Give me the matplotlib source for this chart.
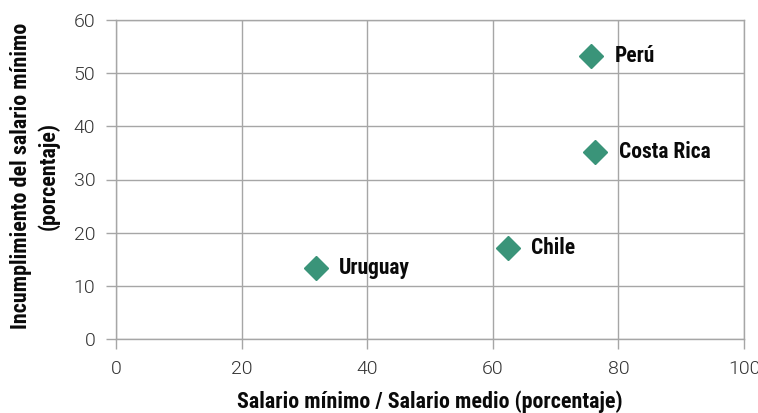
import matplotlib
matplotlib.use("Agg")
import matplotlib.pyplot as plt

# values
countries = ["Perú", "Costa Rica", "Chile", "Uruguay"]
ratio_min_mean = [75.6, 76.3, 62.4, 31.8]
non_compliance = [53.2, 35.1, 17.1, 13.4]

x_ticks = [0, 20, 40, 60, 80, 100]
y_ticks = [0, 10, 20, 30, 40, 50, 60]

GREEN = "#3a9479"
GRID = "#a6a6a6"
LABEL_FONT = ["Roboto Condensed", "DejaVu Sans"]
TICK_FONT = ["Roboto", "DejaVu Sans"]

fig = plt.figure(figsize=(7.58, 4.13), dpi=100)
ax = fig.add_axes([116 / 758, 1 - 339 / 413, 628 / 758, 319 / 413])

ax.plot(ratio_min_mean, non_compliance, linestyle="none", marker="D",
        markersize=12.5, color=GREEN, zorder=3)
for name, x, y in zip(countries, ratio_min_mean, non_compliance):
    ax.annotate(name, (x, y), xytext=(17, 0), textcoords="offset points",
                va="center", ha="left", fontsize=15.5, fontweight="bold",
                family=LABEL_FONT, color="#0a0a0a")

ax.set_xlim(0, 100)
ax.set_ylim(0, 60)
ax.set_xticks(x_ticks)
ax.set_yticks(y_ticks)
ax.grid(True, color=GRID, linewidth=1.0)
ax.set_axisbelow(True)
for sp in ax.spines.values():
    sp.set_color(GRID)
    sp.set_linewidth(1.0)
ax.tick_params(axis="both", direction="out", length=7, width=1.0, color=GRID,
               labelsize=14, labelcolor="#333333", pad=8)
for lab in ax.get_xticklabels() + ax.get_yticklabels():
    lab.set_family(TICK_FONT)
    lab.set_fontweight(300)

ax.set_xlabel("Salario mínimo / Salario medio (porcentaje)", fontsize=15.8,
              fontweight="bold", family=LABEL_FONT, labelpad=8.8, color="#0a0a0a")
ax.set_ylabel("Incumplimiento del salario mínimo\n(porcentaje)", fontsize=15.8,
              fontweight="bold", family=LABEL_FONT, labelpad=10, linespacing=1.3,
              color="#0a0a0a")
ax.yaxis.label.set_y(0.51)

fig.savefig("out.png", dpi=100)
